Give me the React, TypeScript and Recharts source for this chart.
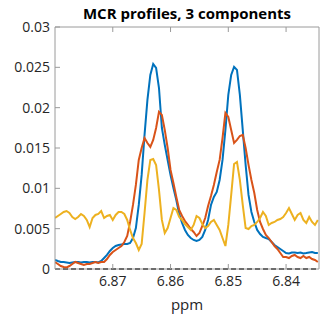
import { CartesianGrid, Line, LineChart, ReferenceLine, XAxis, YAxis } from "recharts";

// chemical shift grid (ppm), plotted high -> low like an NMR spectrum
const ppm = [
  6.88, 6.8795, 6.879, 6.8785, 6.878, 6.8775, 6.877, 6.8765, 6.876, 6.8755,
  6.875, 6.8745, 6.874, 6.8735, 6.873, 6.8725, 6.872, 6.8715, 6.871, 6.8705,
  6.87, 6.8695, 6.869, 6.8685, 6.868, 6.8675, 6.867, 6.8665, 6.866, 6.8655,
  6.865, 6.8645, 6.864, 6.8635, 6.863, 6.8625, 6.862, 6.8615, 6.861, 6.8605,
  6.86, 6.8595, 6.859, 6.8585, 6.858, 6.8575, 6.857, 6.8565, 6.856, 6.8555,
  6.855, 6.8545, 6.854, 6.8535, 6.853, 6.8525, 6.852, 6.8515, 6.851, 6.8505,
  6.85, 6.8495, 6.849, 6.8485, 6.848, 6.8475, 6.847, 6.8465, 6.846, 6.8455,
  6.845, 6.8445, 6.844, 6.8435, 6.843, 6.8425, 6.842, 6.8415, 6.841, 6.8405,
  6.84, 6.8395, 6.839, 6.8385, 6.838, 6.8375, 6.837, 6.8365, 6.836, 6.8355,
  6.835, 6.8345,
];

const comp1 = [
  0.00112, 0.00099, 0.00087, 0.00087, 0.00081, 0.00074, 0.00081, 0.00087, 0.00087, 0.00081,
  0.00087, 0.00087, 0.00081, 0.00087, 0.00087, 0.00081, 0.00099, 0.00136, 0.00174, 0.00223,
  0.0026, 0.00285, 0.00298, 0.00304, 0.0031, 0.0031, 0.00322, 0.00384, 0.00508, 0.00794,
  0.01166, 0.01662, 0.02096, 0.02406, 0.02542, 0.02492, 0.02244, 0.01748, 0.01538, 0.01352,
  0.01166, 0.01004, 0.00856, 0.00682, 0.0057, 0.00484, 0.00422, 0.00384, 0.0036, 0.00347,
  0.0036, 0.00397, 0.00484, 0.00608, 0.00794, 0.00893, 0.00955, 0.01104, 0.01352, 0.01724,
  0.02158, 0.02406, 0.02505, 0.02468, 0.02158, 0.01724, 0.0129, 0.00918, 0.00707, 0.00583,
  0.00484, 0.00434, 0.00397, 0.00384, 0.00372, 0.00335, 0.00298, 0.00273, 0.00248, 0.00223,
  0.00198, 0.00192, 0.00205, 0.00205, 0.00198, 0.00205, 0.00192, 0.00198, 0.00205, 0.00211,
  0.00198, 0.00198,
];

const comp2 = [
  0.00087, 0.00062, 0.00037, 0.00025, 0.00019, 0.00037, 0.00062, 0.00087, 0.00074, 0.00062,
  0.0005, 0.00062, 0.00062, 0.00074, 0.00087, 0.00074, 0.00087, 0.00087, 0.00124, 0.00174,
  0.00211, 0.00236, 0.0026, 0.00285, 0.00335, 0.00409, 0.00583, 0.00794, 0.01042, 0.01352,
  0.015, 0.01624, 0.01562, 0.01513, 0.016, 0.01748, 0.01947, 0.0191, 0.01724, 0.015,
  0.01228, 0.01066, 0.00893, 0.00732, 0.00657, 0.00595, 0.00546, 0.00496, 0.00459, 0.00409,
  0.00446, 0.00533, 0.00632, 0.00781, 0.00905, 0.01042, 0.01203, 0.01352, 0.01624, 0.01934,
  0.01885, 0.01724, 0.01562, 0.016, 0.01649, 0.01662, 0.015, 0.0129, 0.01104, 0.00942,
  0.00732, 0.00583, 0.00496, 0.00422, 0.00384, 0.00335, 0.00285, 0.00248, 0.00198, 0.00149,
  0.00149, 0.00136, 0.00161, 0.00174, 0.00149, 0.00136, 0.00161, 0.00136, 0.00149, 0.00124,
  0.00112, 0.00087,
];

const comp3 = [
  0.00632, 0.00657, 0.00682, 0.00707, 0.00719, 0.00694, 0.00645, 0.0062, 0.00645, 0.00682,
  0.00657, 0.00608, 0.00521, 0.00632, 0.0067, 0.00682, 0.00719, 0.00632, 0.00657, 0.0067,
  0.00608, 0.0067, 0.00707, 0.00707, 0.00682, 0.00608, 0.00484, 0.00384, 0.00322, 0.00236,
  0.0031, 0.00694, 0.01104, 0.01352, 0.01364, 0.0129, 0.0098, 0.00608, 0.00446, 0.00508,
  0.00632, 0.00756, 0.00732, 0.00645, 0.00608, 0.00558, 0.00521, 0.00484, 0.00546, 0.00657,
  0.00632, 0.00558, 0.00508, 0.00533, 0.00583, 0.00608, 0.00546, 0.00484, 0.00384, 0.00285,
  0.00546, 0.00918, 0.01302, 0.01327, 0.01104, 0.00794, 0.00508, 0.00496, 0.00533, 0.00546,
  0.00583, 0.00632, 0.00707, 0.00657, 0.00546, 0.0057, 0.00583, 0.00608, 0.0062, 0.00645,
  0.00694, 0.00756, 0.00682, 0.00608, 0.0067, 0.00694, 0.00608, 0.0057, 0.00645, 0.00583,
  0.00546, 0.00608,
];

const xTicks = [6.87, 6.86, 6.85, 6.84];
const yTicks = [0, 0.005, 0.01, 0.015, 0.02, 0.025, 0.03];

const data = ppm.map((p, i) => ({ ppm: p, c1: comp1[i], c2: comp2[i], c3: comp3[i] }));

const font = "'Open Sans', sans-serif";
const tickStyle = { fontSize: 14, fill: "#262626", fontFamily: font };
const axisGrey = "#9a9a9a";

export default function App() {
  return (
    <div style={{ position: "absolute", left: 0, top: 0, width: 320, height: 322, background: "#fff" }}>
      <div
        style={{
          position: "absolute",
          left: 55,
          width: 264,
          top: 3,
          textAlign: "center",
          fontFamily: font,
          fontWeight: 700,
          fontSize: 15,
          color: "#000",
        }}
      >
        MCR profiles, 3 components
      </div>
      <LineChart width={320} height={322} data={data} margin={{ top: 26, right: 0, left: 5, bottom: 0 }}>
        <CartesianGrid stroke="none" />
        <XAxis
          dataKey="ppm"
          type="number"
          domain={[6.8343, 6.88]}
          reversed
          allowDataOverflow
          ticks={xTicks}
          height={53}
          tickSize={-5}
          tickMargin={12}
          stroke={axisGrey}
          tick={tickStyle}
          label={{ value: "ppm", position: "insideBottom", offset: 12, style: { ...tickStyle, fontSize: 15 } }}
        />
        <XAxis
          xAxisId="top"
          orientation="top"
          dataKey="ppm"
          type="number"
          domain={[6.8343, 6.88]}
          reversed
          allowDataOverflow
          ticks={xTicks}
          height={1}
          tickSize={-5}
          tickFormatter={() => ""}
          stroke={axisGrey}
        />
        <YAxis
          domain={[0, 0.03]}
          ticks={yTicks}
          width={50}
          tickSize={-5}
          tickMargin={10}
          stroke={axisGrey}
          tick={tickStyle}
        />
        <YAxis
          yAxisId="right"
          orientation="right"
          domain={[0, 0.03]}
          ticks={yTicks}
          width={1}
          tickSize={-5}
          tickFormatter={() => ""}
          stroke={axisGrey}
        />
        <ReferenceLine y={0} stroke="#000" strokeWidth={1.5} strokeDasharray="5 3" />
        <Line dataKey="c1" stroke="#0072BD" strokeWidth={2} dot={false} isAnimationActive={false} />
        <Line dataKey="c2" stroke="#D95319" strokeWidth={2} dot={false} isAnimationActive={false} />
        <Line dataKey="c3" stroke="#EDB120" strokeWidth={2} dot={false} isAnimationActive={false} />
      </LineChart>
    </div>
  );
}
